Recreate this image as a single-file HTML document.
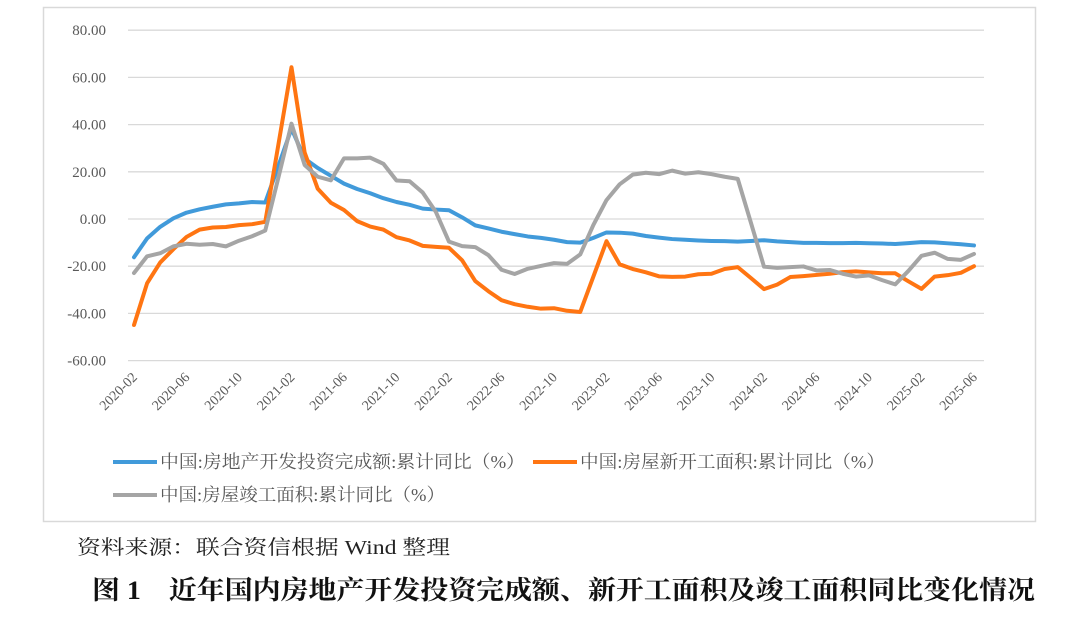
<!DOCTYPE html>
<html><head><meta charset="utf-8"><style>
body{margin:0;background:#fff;width:1080px;height:613px;overflow:hidden;font-family:"Liberation Serif","Noto Serif CJK SC",serif}
svg text{font-family:"Liberation Serif","Noto Serif CJK SC",serif}
</style></head><body>
<svg id="chart" width="1080" height="613" xmlns="http://www.w3.org/2000/svg">
<rect x="43.5" y="7.5" width="992" height="514" fill="#fff" stroke="#d9d9d9" stroke-width="1.5"/>
<g id="grid"></g><g id="ylabels"></g><g id="xlabels"></g><g id="series"></g>
<g>
<line x1="113" y1="462" x2="157" y2="462" stroke="#419ada" stroke-width="4"/>
<text x="160" y="468" font-size="18" fill="#595959" textLength="365" lengthAdjust="spacingAndGlyphs">中国:房地产开发投资完成额:累计同比（%）</text>
<line x1="533" y1="462" x2="577" y2="462" stroke="#ff7512" stroke-width="4"/>
<text x="580" y="468" font-size="18" fill="#595959" textLength="305" lengthAdjust="spacingAndGlyphs">中国:房屋新开工面积:累计同比（%）</text>
<line x1="113" y1="495" x2="157" y2="495" stroke="#a5a5a5" stroke-width="4"/>
<text x="160" y="501" font-size="18" fill="#595959" textLength="285" lengthAdjust="spacingAndGlyphs">中国:房屋竣工面积:累计同比（%）</text>
</g>
<text x="77" y="554" font-size="20" fill="#222" textLength="373" lengthAdjust="spacingAndGlyphs">资料来源：联合资信根据 Wind 整理</text>
<text x="92" y="599" font-size="26" font-weight="bold" fill="#111" textLength="943" lengthAdjust="spacingAndGlyphs">图 1　近年国内房地产开发投资完成额、新开工面积及竣工面积同比变化情况</text>
</svg>
<script>
const yTicks=[80,60,40,20,0,-20,-40,-60];
const yTickLabels=["80.00","60.00","40.00","20.00","0.00","-20.00","-40.00","-60.00"];
const xTickLabels=["2020-02","2020-06","2020-10","2021-02","2021-06","2021-10","2022-02","2022-06","2022-10","2023-02","2023-06","2023-10","2024-02","2024-06","2024-10","2025-02","2025-06"];
const investment=[-16.2,-8.2,-3.3,0.3,2.7,4.1,5.2,6.2,6.6,7.2,7.0,22.5,38.3,25.6,21.6,18.3,15.0,12.7,10.9,8.8,7.2,6.0,4.4,4.0,3.7,0.7,-2.7,-4.0,-5.4,-6.4,-7.4,-8.0,-8.8,-9.8,-10.0,-8.0,-5.7,-5.8,-6.2,-7.2,-7.9,-8.5,-8.8,-9.1,-9.3,-9.4,-9.6,-9.3,-9.0,-9.5,-9.8,-10.1,-10.1,-10.2,-10.2,-10.1,-10.3,-10.4,-10.6,-10.2,-9.8,-9.9,-10.3,-10.7,-11.2];
const newStarts=[-44.9,-27.2,-18.4,-12.8,-7.6,-4.5,-3.6,-3.4,-2.6,-2.2,-1.2,31.5,64.3,28.2,12.8,6.9,3.8,-0.9,-3.2,-4.5,-7.7,-9.1,-11.4,-11.8,-12.2,-17.5,-26.3,-30.6,-34.4,-36.1,-37.2,-38.0,-37.8,-38.9,-39.4,-24.4,-9.4,-19.2,-21.2,-22.6,-24.3,-24.5,-24.4,-23.4,-23.2,-21.2,-20.4,-25.0,-29.7,-27.8,-24.6,-24.2,-23.7,-23.2,-22.5,-22.2,-22.6,-23.0,-23.0,-26.4,-29.6,-24.4,-23.8,-22.8,-20.0];
const completions=[-22.9,-15.8,-14.5,-11.6,-10.5,-10.9,-10.6,-11.6,-9.2,-7.3,-4.9,17.5,40.4,22.9,17.9,16.4,25.7,25.7,26.0,23.4,16.3,16.0,11.2,3.0,-9.6,-11.5,-11.9,-15.3,-21.5,-23.3,-21.1,-19.9,-18.7,-19.0,-15.0,-2.5,8.0,14.7,18.8,19.6,19.0,20.5,19.2,19.8,19.0,17.9,17.0,-1.5,-20.2,-20.7,-20.4,-20.1,-21.8,-21.6,-23.2,-24.4,-23.9,-25.9,-27.7,-22.0,-15.6,-14.3,-16.9,-17.3,-14.8];
const NS="http://www.w3.org/2000/svg";
const x0=134,x1=974,gx0=128,gx1=984,n=investment.length;
function xs(i){return x0+i*(x1-x0)/(n-1);}
function ys(v){return 219-v*47.2/20;}
function mk(tag,attrs,parent){const e=document.createElementNS(NS,tag);for(const k in attrs)e.setAttribute(k,attrs[k]);parent.appendChild(e);return e;}
const grid=document.getElementById('grid'),yl=document.getElementById('ylabels'),xl=document.getElementById('xlabels'),sg=document.getElementById('series');
yTicks.forEach((v,k)=>{
  const l=mk('line',{x1:gx0,x2:gx1,y1:ys(v),y2:ys(v),stroke:'#d9d9d9','stroke-width':1.3},grid);
  
  
  const t=mk('text',{x:106,y:ys(v)+5,'text-anchor':'end','font-size':15,fill:'#595959'},yl);
  
  
  t.textContent=yTickLabels[k];
});
xTickLabels.forEach((lab,k)=>{
  const x=xs(k*4),y=378;
  const t=mk('text',{x:x+4,y:y,'text-anchor':'end','font-size':14,fill:'#595959',transform:`rotate(-45 ${x+4} ${y})`},xl);
  
  
  t.textContent=lab;
});
function draw(arr,color,name){
  const p=mk('polyline',{points:arr.map((v,i)=>xs(i)+','+ys(v)).join(' '),fill:'none',stroke:color,'stroke-width':4,'stroke-linejoin':'round','stroke-linecap':'round'},sg);
  
  
}
draw(investment,'#419ada','investment-line');
draw(newStarts,'#ff7512','new-starts-line');
draw(completions,'#a5a5a5','completions-line');
</script>
</body></html>
